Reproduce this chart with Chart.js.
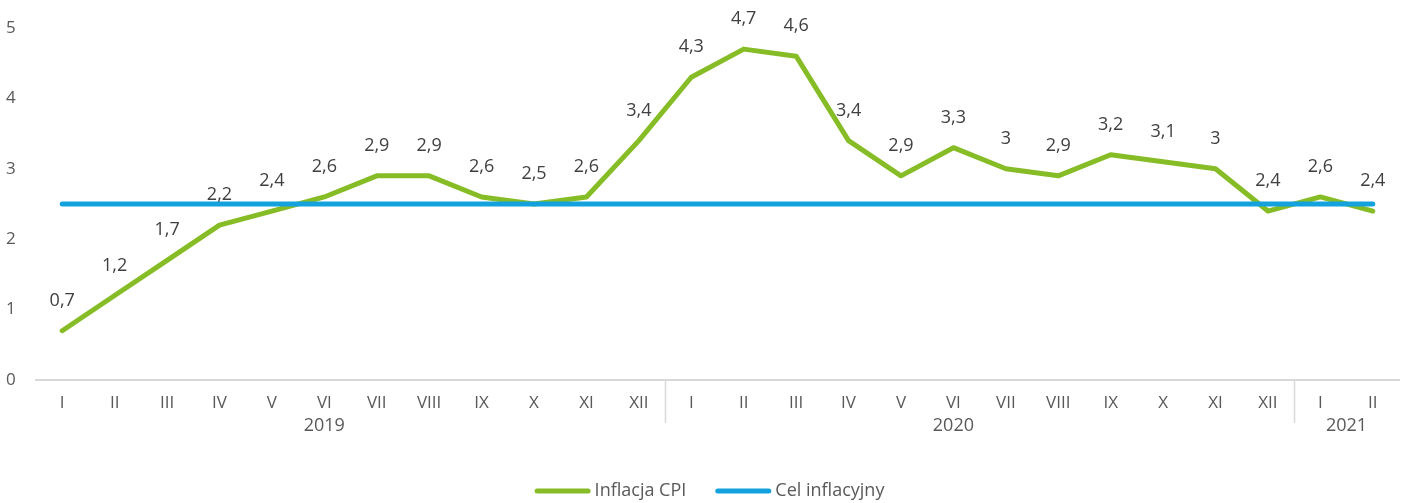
<!DOCTYPE html>
<html>
<head>
<meta charset="utf-8">
<script src="https://cdn.jsdelivr.net/npm/chart.js@4"></script>
<style>
  html, body { margin: 0; padding: 0; background: #fff; }
  canvas { display: block; }
</style>
</head>
<body>
<canvas id="cpi" width="1403" height="503"></canvas>
<script>
// miesiące (oś X) i grupy lat pod nimi
const months = ['I','II','III','IV','V','VI','VII','VIII','IX','X','XI','XII',
                'I','II','III','IV','V','VI','VII','VIII','IX','X','XI','XII',
                'I','II'];
const years = ['2019', '2020', '2021'];
const yearSpans = [12, 12, 2];

// inflacja CPI r/r w %
const cpi = [0.7, 1.2, 1.7, 2.2, 2.4, 2.6, 2.9, 2.9, 2.6, 2.5, 2.6, 3.4,
             4.3, 4.7, 4.6, 3.4, 2.9, 3.3, 3, 2.9, 3.2, 3.1, 3, 2.4,
             2.6, 2.4];
// cel inflacyjny NBP
const target = months.map(() => 2.5);
const yTicks = [0, 1, 2, 3, 4, 5];

const GREEN = '#86BC25';
const BLUE = '#13A2DD';
const AXIS_TXT = '#595959';
const LABEL_TXT = '#404040';
const LINE_GRAY = '#d9d9d9';
const FONT = '"Open Sans", sans-serif';

const fmt = v => String(v).replace('.', ',');

const extras = {
    id: 'extras',
    afterDatasetsDraw(chart) {
        const ctx = chart.ctx;
        const x = chart.scales.x;
        const area = chart.chartArea;

        // etykiety wartości nad linią CPI
        ctx.save();
        ctx.font = '18px ' + FONT;
        ctx.fillStyle = LABEL_TXT;
        ctx.textAlign = 'center';
        ctx.textBaseline = 'middle';
        const meta = chart.getDatasetMeta(0);
        meta.data.forEach((pt, i) => {
            ctx.fillText(fmt(cpi[i]), pt.x, pt.y - 30);
        });
        ctx.restore();

        // podział na lata: pionowe kreski i podpisy
        ctx.save();
        ctx.strokeStyle = LINE_GRAY;
        ctx.lineWidth = 1.5;
        ctx.font = '18px ' + FONT;
        ctx.fillStyle = AXIS_TXT;
        ctx.textAlign = 'center';
        ctx.textBaseline = 'middle';
        let start = 0;
        years.forEach((yr, k) => {
            const n = yearSpans[k];
            const anchor = (n > 2 && n % 2 === 0) ? start + n / 2 - 1 : start + (n - 1) / 2;
            ctx.fillText(yr, x.getPixelForValue(anchor), area.bottom + 46);
            if (k > 0) {
                const dx = Math.round((x.getPixelForValue(start - 1) + x.getPixelForValue(start)) / 2) + 0.5;
                ctx.beginPath();
                ctx.moveTo(dx, area.bottom);
                ctx.lineTo(dx, area.bottom + 43);
                ctx.stroke();
            }
            start += n;
        });
        ctx.restore();

        // legenda
        ctx.save();
        ctx.font = '18px ' + FONT;
        ctx.textBaseline = 'middle';
        const items = [chart.data.datasets[0], chart.data.datasets[1]];
        const sw = 56, gap = 4, between = 29;
        const widths = items.map(d => sw + gap + ctx.measureText(d.label).width);
        const total = widths.reduce((a, b) => a + b, 0) + between * (items.length - 1);
        let lx = (area.left + area.right) / 2 - 8 - total / 2;
        const ly = 491;
        items.forEach((d, i) => {
            ctx.strokeStyle = d.borderColor;
            ctx.lineWidth = 5;
            ctx.lineCap = 'round';
            ctx.beginPath();
            ctx.moveTo(lx + 2.5, ly);
            ctx.lineTo(lx + sw - 2.5, ly);
            ctx.stroke();
            ctx.fillStyle = AXIS_TXT;
            ctx.fillText(d.label, lx + sw + gap, ly);
            lx += widths[i] + between;
        });
        ctx.restore();
    }
};

new Chart(document.getElementById('cpi'), {
    type: 'line',
    data: {
        labels: months,
        datasets: [
            {
                label: 'Inflacja CPI',
                data: cpi,
                borderColor: GREEN,
                backgroundColor: GREEN,
                borderWidth: 5,
                borderJoinStyle: 'round',
                borderCapStyle: 'round',
                pointRadius: 0,
                tension: 0,
                order: 1
            },
            {
                label: 'Cel inflacyjny',
                data: target,
                borderColor: BLUE,
                backgroundColor: BLUE,
                borderWidth: 5,
                borderCapStyle: 'round',
                pointRadius: 0,
                tension: 0,
                order: 0
            }
        ]
    },
    options: {
        responsive: false,
        devicePixelRatio: 1,
        animation: false,
        layout: { padding: { left: 6, right: 4, top: 28, bottom: 0 } },
        plugins: {
            legend: { display: false },
            tooltip: { enabled: false }
        },
        scales: {
            x: {
                offset: true,
                grid: { display: false },
                border: { display: true, color: LINE_GRAY, width: 2 },
                ticks: {
                    color: AXIS_TXT,
                    font: { family: FONT, size: 17 },
                    padding: 5,
                    maxRotation: 0,
                    autoSkip: false
                },
                afterFit: s => { s.height = 123; }
            },
            y: {
                min: 0,
                max: 5,
                grid: { display: false },
                border: { display: false },
                afterBuildTicks: s => { s.ticks = yTicks.map(v => ({ value: v })); },
                ticks: {
                    color: AXIS_TXT,
                    font: { family: FONT, size: 17 },
                    crossAlign: 'far',
                    callback: v => fmt(v)
                },
                afterFit: s => { s.width = 30; }
            }
        }
    },
    plugins: [extras]
});
</script>
</body>
</html>
